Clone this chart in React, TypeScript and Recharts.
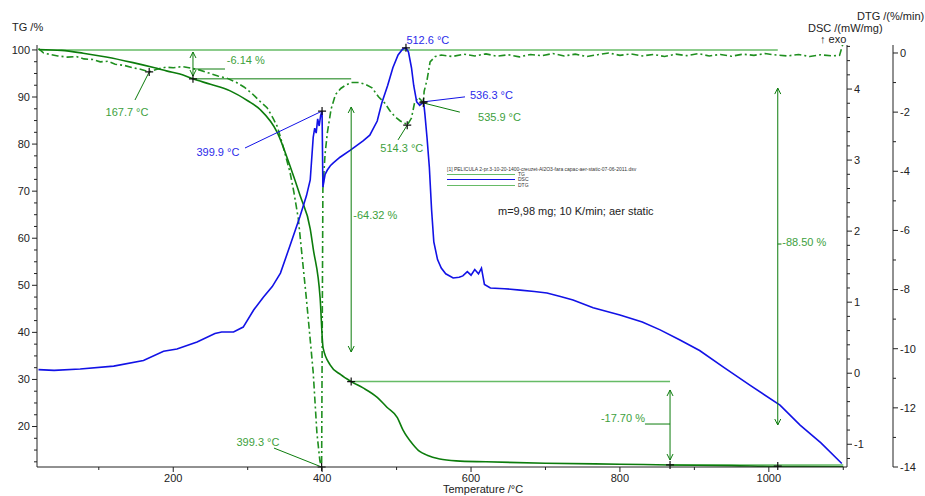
import React from 'react';
import { ComposedChart, Line, XAxis, YAxis, ReferenceLine, ReferenceDot } from 'recharts';

// TG curve, % vs °C
const tgTemp = [19, 50, 79, 110, 146, 175, 192, 209, 226.5, 250, 276.5, 300, 317, 340, 357, 370.5, 384, 388, 397.3, 401.3, 410.7, 425, 439, 455, 474, 487, 501, 508.5, 522, 531, 541, 558, 580, 620, 700, 800, 867.3, 950, 1012, 1100];
const tgValues = [100.1, 99.9, 99.3, 98.5, 97.3, 96.2, 95.5, 94.9, 93.86, 92.7, 91.3, 89.2, 87.3, 82.4, 75.3, 69.0, 62.0, 57.8, 47.3, 36.7, 33.1, 31.0, 29.54, 28.2, 26.2, 24.1, 21.9, 19.3, 16.2, 14.7, 13.9, 13.1, 12.7, 12.5, 12.2, 12.0, 11.84, 11.7, 11.5, 11.45];

// DSC curve, mW/mg
const dscTemp = [19, 40, 75, 120, 160, 187, 205, 232, 256, 265, 281, 294, 308, 321, 333, 344, 357, 370, 379, 384, 388, 390, 392, 394, 396, 398, 399.9, 401, 404, 407, 411, 415, 424, 438, 455, 464, 474, 480, 488, 495, 502, 508, 512.6, 516, 520, 523, 527, 531, 536.3, 538, 541, 544, 547, 550, 555, 560, 566, 576, 584, 589, 595, 600, 605, 610, 614, 618, 626, 645, 666, 685, 702, 720, 737, 764, 800, 830, 854, 880, 907, 940, 975, 1015, 1042, 1070, 1098];
const dscValues = [0.05, 0.04, 0.06, 0.1, 0.18, 0.31, 0.34, 0.44, 0.56, 0.58, 0.58, 0.65, 0.89, 1.07, 1.22, 1.41, 1.8, 2.2, 2.5, 2.72, 3.32, 3.45, 3.38, 3.58, 3.48, 3.63, 3.69, 2.62, 2.8, 2.86, 2.92, 2.96, 3.04, 3.14, 3.27, 3.35, 3.55, 3.8, 4.05, 4.3, 4.48, 4.56, 4.58, 4.52, 4.3, 4.05, 3.82, 3.77, 3.82, 3.65, 3.3, 2.9, 2.3, 1.85, 1.6, 1.48, 1.4, 1.34, 1.35, 1.37, 1.43, 1.38, 1.46, 1.4, 1.48, 1.25, 1.2, 1.19, 1.17, 1.15, 1.13, 1.08, 1.03, 0.92, 0.82, 0.72, 0.61, 0.47, 0.32, 0.08, -0.17, -0.45, -0.73, -0.98, -1.27];

// DTG curve, %/min
const dtgTemp = [19, 26, 35, 45, 58, 70, 80, 92, 102, 112, 122, 134, 146, 156, 167.7, 178, 190, 200, 212, 225, 236, 248, 260, 272, 285, 295, 305, 315, 326, 334, 340, 348, 357, 362, 368, 372, 379, 384, 388, 393, 397, 399.3, 400.2, 401, 404, 407, 412, 418, 425, 432, 440, 450, 458, 467, 476, 484, 491, 498, 505, 511, 514.3, 520, 524, 529, 533, 535.9, 537, 541, 545, 552, 560, 575, 590, 605, 620, 635, 650, 665, 680, 695, 710, 725, 740, 755, 770, 785, 800, 815, 830, 845, 860, 875, 890, 905, 920, 935, 950, 965, 980, 995, 1010, 1025, 1040, 1055, 1070, 1085, 1095, 1100];
const dtgValues = [0.15, 0.0, -0.05, -0.1, -0.14, -0.12, -0.2, -0.22, -0.3, -0.28, -0.38, -0.42, -0.5, -0.55, -0.64, -0.55, -0.48, -0.5, -0.46, -0.52, -0.58, -0.68, -0.78, -0.85, -1.0, -1.15, -1.35, -1.6, -1.85, -2.2, -2.5, -3.2, -4.05, -4.7, -5.6, -6.6, -8.35, -9.7, -10.8, -12.85, -13.8, -14.0, -9.0, -4.6, -3.4, -2.7, -1.9, -1.4, -1.2, -1.08, -1.0, -1.0, -1.06, -1.18, -1.49, -1.69, -1.95, -2.16, -2.3, -2.37, -2.44, -2.2, -1.7, -1.5, -1.6, -1.69, -1.3, -0.9, -0.3, -0.12, -0.07, -0.12, -0.04, -0.1, -0.03, -0.11, -0.06, -0.13, -0.05, -0.09, -0.02, -0.1, -0.04, -0.12, -0.06, 0.0, -0.08, -0.03, -0.1, -0.05, -0.12, -0.04, -0.09, -0.02, -0.1, -0.05, -0.11, -0.04, -0.08, -0.02, -0.07, -0.1, -0.05, -0.12, -0.06, -0.1, -0.08, 0.35];

// ticks
const tempTicks = [100, 200, 300, 400, 500, 600, 700, 800, 900, 1000, 1100];
const tempLabels = [200, 400, 600, 800, 1000];
const tgTicks = [12.5, 15, 17.5, 20, 22.5, 25, 27.5, 30, 32.5, 35, 37.5, 40, 42.5, 45, 47.5, 50, 52.5, 55, 57.5, 60, 62.5, 65, 67.5, 70, 72.5, 75, 77.5, 80, 82.5, 85, 87.5, 90, 92.5, 95, 97.5, 100];
const tgLabels = [20, 30, 40, 50, 60, 70, 80, 90, 100];
const dscTicks = [-1.2, -1, -0.8, -0.6, -0.4, -0.2, 0, 0.2, 0.4, 0.6, 0.8, 1, 1.2, 1.4, 1.6, 1.8, 2, 2.2, 2.4, 2.6, 2.8, 3, 3.2, 3.4, 3.6, 3.8, 4, 4.2, 4.4, 4.6];
const dscLabels = [-1, 0, 1, 2, 3, 4];
const dtgTicks = [-14, -13, -12, -11, -10, -9, -8, -7, -6, -5, -4, -3, -2, -1, 0];
const dtgLabels = [-14, -12, -10, -8, -6, -4, -2, 0];

const TG_GREEN = '#0c7c0c';
const DTG_GREEN = '#1f8f1f';
const LIGHT = '#66bb66';
const BLUE = '#1212e6';
const TXT_GREEN = '#3d9f3d';
const TXT_BLUE = '#2b2bea';
const AXIS = '#222';
const FONT = '"Liberation Sans", Arial, sans-serif';

function axisTick(side: 'left' | 'right' | 'bottom', labelled: number[]) {
  return (p: any) => {
    const v = p.payload.value;
    const major = labelled.some((l) => Math.abs(l - v) < 1e-6);
    const len = major ? 5 : 3;
    if (side === 'bottom') {
      const Y = p.y - 7;
      return (
        <g>
          <line x1={p.x} y1={Y} x2={p.x} y2={Y + len} stroke={AXIS} />
          {major && <text x={p.x} y={p.y} dy="0.71em" textAnchor="middle" fontSize={11} fill="#222" fontFamily={FONT}>{v}</text>}
        </g>
      );
    }
    if (side === 'left') {
      const X = p.x + 7;
      return (
        <g>
          <line x1={X - len} y1={p.y} x2={X} y2={p.y} stroke={AXIS} />
          {major && <text x={p.x} y={p.y} dy="0.35em" textAnchor="end" fontSize={11} fill="#222" fontFamily={FONT}>{v}</text>}
        </g>
      );
    }
    const X = p.x - 7;
    return (
      <g>
        <line x1={X} y1={p.y} x2={X + len} y2={p.y} stroke={AXIS} />
        {major && <text x={p.x} y={p.y} dy="0.35em" textAnchor="start" fontSize={11} fill="#222" fontFamily={FONT}>{v}</text>}
      </g>
    );
  };
}

const Arrow = (p: any) => {
  const { x1, y1, x2, y2 } = p;
  return (
    <g stroke={TG_GREEN} strokeWidth={1} fill="none">
      <line x1={x1} y1={y1} x2={x2} y2={y2} />
      <polyline points={`${x1 - 3},${y1 + 6} ${x1},${y1} ${x1 + 3},${y1 + 6}`} />
      <polyline points={`${x2 - 3},${y2 - 6} ${x2},${y2} ${x2 + 3},${y2 - 6}`} />
    </g>
  );
};

const Plus = (p: any) => (
  <path d={`M${p.cx - 4},${p.cy}h8M${p.cx},${p.cy - 4}v8`} stroke="#111" strokeWidth={1.2} />
);

const note = (text: string, color: string, anchor: 'start' | 'middle' | 'end') => (p: any) => (
  <text x={p.cx} y={p.cy} textAnchor={anchor} fontSize={11} fill={color} fontFamily={FONT}>{text}</text>
);

export default function App() {
  const tg = tgTemp.map((t, i) => ({ t, v: tgValues[i] }));
  const dsc = dscTemp.map((t, i) => ({ t, v: dscValues[i] }));
  const dtg = dtgTemp.map((t, i) => ({ t, v: dtgValues[i] }));

  return (
    <div style={{ position: 'absolute', left: 0, top: 0, width: 925, height: 496, background: '#fff', fontFamily: FONT }}>
      <ComposedChart width={925} height={496} margin={{ top: 45, right: 0, bottom: 9, left: 0 }}>
        <XAxis dataKey="t" type="number" domain={[17, 1105]} allowDataOverflow ticks={tempTicks} interval={0} height={20}
          stroke={AXIS} tickSize={5} tickMargin={2} tickLine={{ strokeOpacity: 0 }} tick={axisTick('bottom', tempLabels)} />
        <YAxis yAxisId="tg" orientation="left" width={37} type="number" domain={[11.4, 101.05]} allowDataOverflow ticks={tgTicks} interval={0}
          stroke={AXIS} tickSize={5} tickMargin={2} tickLine={{ strokeOpacity: 0 }} tick={axisTick('left', tgLabels)} />
        <YAxis yAxisId="dsc" orientation="right" width={46} type="number" domain={[-1.32, 4.62]} allowDataOverflow ticks={dscTicks} interval={0}
          stroke={AXIS} tickSize={5} tickMargin={2} tickLine={{ strokeOpacity: 0 }} tick={axisTick('right', dscLabels)} />
        <YAxis yAxisId="dtg" orientation="right" width={32} type="number" domain={[-14, 0.27]} allowDataOverflow ticks={dtgTicks} interval={0}
          stroke={AXIS} tickSize={5} tickMargin={2} tickLine={{ strokeOpacity: 0 }} tick={axisTick('right', dtgLabels)} />

        {/* step baselines */}
        <ReferenceLine yAxisId="tg" segment={[{ x: 20, y: 100 }, { x: 1012, y: 100 }]} stroke={LIGHT} strokeWidth={1.5} />
        <ReferenceLine yAxisId="tg" segment={[{ x: 226.5, y: 93.86 }, { x: 439, y: 93.86 }]} stroke={TG_GREEN} strokeWidth={1} />
        <ReferenceLine yAxisId="tg" segment={[{ x: 439, y: 29.54 }, { x: 867.3, y: 29.54 }]} stroke={LIGHT} strokeWidth={1.5} />
        <ReferenceLine yAxisId="tg" segment={[{ x: 867.3, y: 11.84 }, { x: 1100, y: 11.84 }]} stroke={LIGHT} strokeWidth={1.5} />

        <Line yAxisId="dtg" data={dtg} dataKey="v" stroke={DTG_GREEN} strokeWidth={1.6} strokeDasharray="7 3 2 3" dot={false} type="linear" isAnimationActive={false} />
        <Line yAxisId="tg" data={tg} dataKey="v" stroke={TG_GREEN} strokeWidth={1.6} dot={false} type="monotone" isAnimationActive={false} />
        <Line yAxisId="dsc" data={dsc} dataKey="v" stroke={BLUE} strokeWidth={1.6} dot={false} type="linear" isAnimationActive={false} />

        {/* mass steps */}
        <ReferenceLine yAxisId="tg" segment={[{ x: 226.5, y: 99.56 }, { x: 226.5, y: 94.46 }]} shape={Arrow} />
        <ReferenceLine yAxisId="tg" segment={[{ x: 226.5, y: 95.95 }, { x: 269.5, y: 95.95 }]} stroke={TG_GREEN} strokeWidth={1} />
        <ReferenceDot yAxisId="tg" x={272} y={97.0} r={0} shape={note('-6.14 %', TXT_GREEN, 'start')} />

        <ReferenceLine yAxisId="tg" segment={[{ x: 439, y: 87.88 }, { x: 439, y: 35.83 }]} shape={Arrow} />
        <ReferenceDot yAxisId="tg" x={441.8} y={64.08} r={0} shape={note('-64.32 %', TXT_GREEN, 'start')} />

        <ReferenceLine yAxisId="tg" segment={[{ x: 867.3, y: 27.76 }, { x: 867.3, y: 12.88 }]} shape={Arrow} />
        <ReferenceLine yAxisId="tg" segment={[{ x: 833.6, y: 20.53 }, { x: 867.3, y: 20.53 }]} stroke={TG_GREEN} strokeWidth={1} />
        <ReferenceDot yAxisId="tg" x={833.6} y={20.96} r={0} shape={note('-17.70 %', TXT_GREEN, 'end')} />

        <ReferenceLine yAxisId="tg" segment={[{ x: 1012, y: 91.9 }, { x: 1012, y: 20.32 }]} shape={Arrow} />
        <ReferenceLine yAxisId="tg" segment={[{ x: 1012, y: 58.77 }, { x: 1017, y: 58.77 }]} stroke={TG_GREEN} strokeWidth={1} />
        <ReferenceDot yAxisId="tg" x={1018} y={58.35} r={0} shape={note('-88.50 %', TXT_GREEN, 'start')} />

        {/* peak temperatures */}
        <ReferenceLine yAxisId="dtg" segment={[{ x: 167.7, y: -0.64 }, { x: 148.6, y: -1.59 }]} stroke={TG_GREEN} strokeWidth={1} />
        <ReferenceDot yAxisId="dtg" x={137.9} y={-2.13} r={0} shape={note('167.7 °C', TXT_GREEN, 'middle')} />

        <ReferenceLine yAxisId="dsc" segment={[{ x: 399.9, y: 3.69 }, { x: 296.4, y: 3.17 }]} stroke={BLUE} strokeWidth={1} />
        <ReferenceDot yAxisId="dsc" x={260} y={3.06} r={0} shape={note('399.9 °C', TXT_BLUE, 'middle')} />

        <ReferenceDot yAxisId="dsc" x={542} y={4.63} r={0} ifOverflow="visible" shape={note('512.6 °C', TXT_BLUE, 'middle')} />

        <ReferenceLine yAxisId="dsc" segment={[{ x: 536.3, y: 3.82 }, { x: 591.9, y: 3.89 }]} stroke={BLUE} strokeWidth={1} />
        <ReferenceDot yAxisId="dsc" x={598.6} y={3.86} r={0} shape={note('536.3 °C', TXT_BLUE, 'start')} />

        <ReferenceLine yAxisId="dtg" segment={[{ x: 535.9, y: -1.69 }, { x: 585, y: -2.0 }]} stroke={TG_GREEN} strokeWidth={1} />
        <ReferenceDot yAxisId="dtg" x={609.4} y={-2.3} r={0} shape={note('535.9 °C', TXT_GREEN, 'start')} />

        <ReferenceLine yAxisId="dtg" segment={[{ x: 514.3, y: -2.44 }, { x: 501.9, y: -2.94 }]} stroke={TG_GREEN} strokeWidth={1} />
        <ReferenceDot yAxisId="dtg" x={507} y={-3.35} r={0} shape={note('514.3 °C', TXT_GREEN, 'middle')} />

        <ReferenceLine yAxisId="dtg" segment={[{ x: 399.3, y: -14 }, { x: 335.3, y: -13.36 }]} stroke={TG_GREEN} strokeWidth={1} />
        <ReferenceDot yAxisId="dtg" x={313.8} y={-13.29} r={0} shape={note('399.3 °C', TXT_GREEN, 'middle')} />

        {/* markers */}
        <ReferenceDot yAxisId="tg" x={226.5} y={93.86} shape={Plus} />
        <ReferenceDot yAxisId="tg" x={439} y={29.54} shape={Plus} />
        <ReferenceDot yAxisId="tg" x={867.3} y={11.84} shape={Plus} />
        <ReferenceDot yAxisId="tg" x={1012} y={11.6} shape={Plus} />
        <ReferenceDot yAxisId="dsc" x={399.9} y={3.69} shape={Plus} />
        <ReferenceDot yAxisId="dsc" x={512.6} y={4.58} shape={Plus} />
        <ReferenceDot yAxisId="dsc" x={536.3} y={3.82} shape={Plus} />
        <ReferenceDot yAxisId="dtg" x={167.7} y={-0.64} shape={Plus} />
        <ReferenceDot yAxisId="dtg" x={399.3} y={-14} ifOverflow="visible" shape={Plus} />
        <ReferenceDot yAxisId="dtg" x={514.3} y={-2.44} shape={Plus} />
        <ReferenceDot yAxisId="dtg" x={535.9} y={-1.69} shape={Plus} />
      </ComposedChart>

      {/* axis titles */}
      <div style={{ position: 'absolute', left: 12, top: 21, fontSize: 11, color: '#222' }}>TG /%</div>
      <div style={{ position: 'absolute', left: 857, top: 10, fontSize: 11, color: '#222' }}>DTG /(%/min)</div>
      <div style={{ position: 'absolute', left: 808, top: 22, fontSize: 11, color: '#222' }}>DSC /(mW/mg)</div>
      <div style={{ position: 'absolute', left: 820, top: 33, fontSize: 11, color: '#222' }}>↑ exo</div>
      <div style={{ position: 'absolute', left: 443, top: 483, fontSize: 11, color: '#222' }}>Temperature /°C</div>

      {/* file legend */}
      <div style={{ position: 'absolute', left: 447, top: 166, fontSize: 5, color: '#333', whiteSpace: 'nowrap', lineHeight: '6px' }}>
        [1] PELICULA 2-pr.3-10-20-1400-creuzet-Al2O3-fara capac-aer-static-07-06-2011.dsv
      </div>
      {[
        { name: 'TG', color: LIGHT, top: 174 },
        { name: 'DSC', color: BLUE, top: 179 },
        { name: 'DTG', color: LIGHT, top: 185 },
      ].map((s) => (
        <div key={s.name} style={{ position: 'absolute', left: 447, top: s.top - 3, height: 6, display: 'flex', alignItems: 'center' }}>
          <div style={{ width: 68, height: 0, borderTop: `1.5px solid ${s.color}` }} />
          <span style={{ fontSize: 5, color: '#333', marginLeft: 3 }}>{s.name}</span>
        </div>
      ))}
      <div style={{ position: 'absolute', left: 498, top: 205, fontSize: 11, color: '#222', whiteSpace: 'nowrap' }}>
        m=9,98 mg; 10 K/min; aer static
      </div>
    </div>
  );
}
